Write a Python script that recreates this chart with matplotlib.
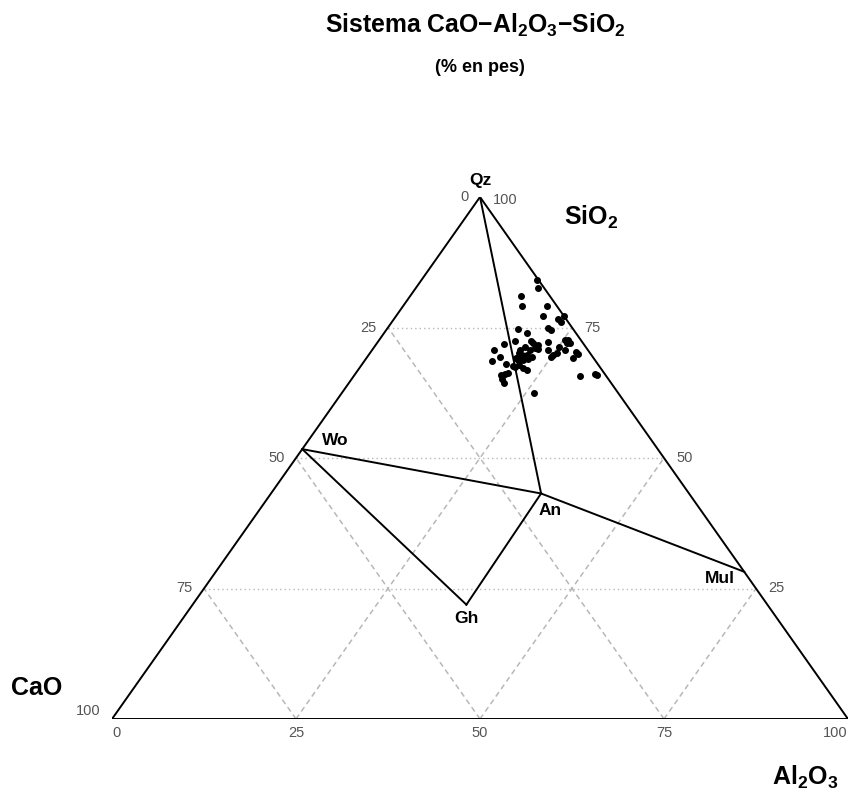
import numpy as np
import matplotlib
matplotlib.use("Agg")
import matplotlib.pyplot as plt

plt.rcParams["font.family"] = ["Liberation Sans", "DejaVu Sans"]
plt.rcParams["mathtext.fontset"] = "custom"
plt.rcParams["mathtext.rm"] = "Liberation Sans:bold"
plt.rcParams["mathtext.default"] = "rm"

# ── Data (wt %) ───────────────────────────────────────────────────────────────
sio2 = [84.1, 82.5, 81.1, 79.1, 79.1, 77.2, 77.2, 76.6, 76.1, 75.0,
        74.5, 74.7, 73.9, 72.4, 72.4, 72.0, 72.3, 72.6, 72.7, 72.1,
        72.0, 71.8, 70.6, 71.3, 71.0, 70.8, 70.7, 70.6, 71.3, 70.7,
        70.4, 69.7, 70.1, 69.4, 70.1, 69.7, 69.7, 69.1, 69.3, 68.8,
        68.9, 69.4, 69.3, 68.6, 68.1, 67.6, 67.8, 67.2, 66.9, 67.4,
        69.1, 69.9, 65.9, 66.0, 66.2, 65.1, 64.4, 65.7, 66.1, 65.9,
        62.5, 68.8, 71.6, 70.7]
al2o3 = [15.7, 16.6, 15.0, 16.1, 19.6, 20.0, 22.8, 22.3, 23.0, 21.7,
         22.4, 17.8, 19.5, 18.5, 20.7, 21.2, 23.1, 25.2, 25.6, 26.2,
         25.8, 17.4, 16.6, 20.4, 22.0, 22.5, 21.4, 24.0, 25.1, 26.2,
         27.9, 25.1, 25.4, 25.0, 20.2, 20.8, 21.5, 20.4, 20.8, 21.5,
         22.1, 22.3, 18.0, 17.3, 19.5, 20.7, 21.4, 22.2, 23.0, 21.1,
         28.1, 28.4, 19.9, 20.4, 20.7, 20.4, 21.0, 30.7, 32.6, 32.9,
         26.1, 20.8, 22.1, 20.1]
cao = [100 - s - a for s, a in zip(sio2, al2o3)]

# mineral phases: name, SiO2, Al2O3
phase_names = ["Qz", "Wo", "An", "Gh", "Mul"]
phase_sio2 = [100.0, 51.7, 43.2, 21.9, 28.2]
phase_al2o3 = [0.0, 0.0, 36.7, 37.2, 71.8]
tie_lines = [("Qz", "An"), ("Wo", "An"), ("An", "Mul"), ("Wo", "Gh"), ("Gh", "An")]

ticks = [25, 50, 75]


def tern(s, a):
    s = np.asarray(s) / 100.0
    a = np.asarray(a) / 100.0
    return a + s / 2, s


# ── Figure ────────────────────────────────────────────────────────────────────
W, H = 859, 792
fig = plt.figure(figsize=(W / 100, H / 100), dpi=100)
ax = fig.add_axes([112 / W, 73 / H, 736 / W, 522 / H])
ax.set_xlim(0, 1)
ax.set_ylim(0, 1)
ax.axis("off")

grid_col = "#b8b8b8"
for v in ticks:
    # constant SiO2 (horizontal, dotted)
    x, y = tern([v, v], [0, 100 - v])
    ax.plot(x, y, color=grid_col, lw=1.0, ls=(0, (1, 2.2)), zorder=1)
    # constant Al2O3
    x, y = tern([0, 100 - v], [v, v])
    ax.plot(x, y, color=grid_col, lw=1.1, ls=(0, (3.5, 2.5)), zorder=1)
    # constant CaO
    x, y = tern([0, 100 - v], [100 - v, 0])
    ax.plot(x, y, color=grid_col, lw=1.1, ls=(0, (3.5, 2.5)), zorder=1)

# triangle frame
x, y = tern([0, 0, 100, 0], [0, 100, 0, 0])
ax.plot(x, y, color="black", lw=1.4, zorder=2, solid_joinstyle="miter")

# tie lines
px, py = tern(phase_sio2, phase_al2o3)
idx = {n: i for i, n in enumerate(phase_names)}
for p, q in tie_lines:
    ax.plot([px[idx[p]], px[idx[q]]], [py[idx[p]], py[idx[q]]],
            color="black", lw=1.4, zorder=3)

# samples
dx, dy = tern(sio2, al2o3)
ax.plot(dx, dy, "o", color="black", ms=4.0, zorder=4)

# phase labels (offsets in points)
label_off = {"Qz": (0, 12, "center", "center"),
             "Wo": (14, 6, "left", "center"),
             "An": (-2, -12, "left", "center"),
             "Gh": (0, -10, "center", "center"),
             "Mul": (-7, -5, "right", "center")}
for i, n in enumerate(phase_names):
    ox, oy, ha, va = label_off[n]
    ax.annotate(n, (px[i], py[i]), xytext=(ox, oy), textcoords="offset points",
                ha=ha, va=va, fontsize=12.5, fontweight="bold", zorder=5)

# tick labels
tick_col = "#555555"
tfs = 10.5
for v in [0, 25, 50, 75, 100]:
    # bottom: Al2O3
    x, y = tern(0, v)
    ha = "left" if v == 0 else ("right" if v == 100 else "center")
    ax.annotate(str(v), (x, y), xytext=(0, -10), textcoords="offset points",
                ha=ha, va="center", fontsize=tfs, color=tick_col)
    # left: CaO
    x, y = tern(100 - v, 0)
    oy = 6 if v == 100 else 0
    ax.annotate(str(v), (x, y), xytext=(-8, oy), textcoords="offset points",
                ha="right", va="center", fontsize=tfs, color=tick_col)
    # right: SiO2
    x, y = tern(v, 100 - v)
    if v > 0:
        ax.annotate(str(v), (x, y), xytext=(9, 0 if v < 100 else -2),
                    textcoords="offset points",
                    ha="left", va="center", fontsize=tfs, color=tick_col)

# component labels
ax.annotate(r"SiO$_2$", tern(100, 0), xytext=(80, -15), textcoords="offset points",
            ha="center", va="center", fontsize=18, fontweight="bold")
ax.annotate("CaO", tern(0, 0), xytext=(-54, 22), textcoords="offset points",
            ha="center", va="center", fontsize=18, fontweight="bold")
ax.annotate(r"Al$_2$O$_3$", tern(0, 100), xytext=(-31, -42), textcoords="offset points",
            ha="center", va="center", fontsize=18, fontweight="bold")

# titles (centred over the apex of the triangle)
fig.text(475 / W, 1 - 25 / H, r"Sistema CaO$-$Al$_2$O$_3$$-$SiO$_2$",
         ha="center", va="center", fontsize=17.8, fontweight="bold")
fig.text(480 / W, 1 - 67 / H, "(% en pes)", ha="center", va="center",
         fontsize=13, fontweight="bold")

fig.savefig("out.png", dpi=100)
